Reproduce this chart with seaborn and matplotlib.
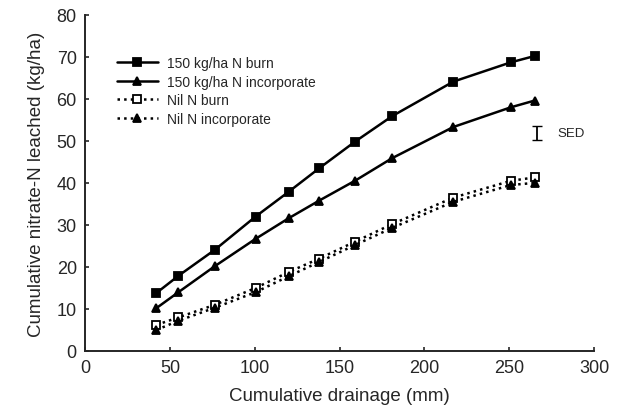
import pandas as pd
import seaborn as sns
import matplotlib.pyplot as plt

sns.set_style('ticks')
plt.rcParams['font.family'] = ['Liberation Sans', 'DejaVu Sans']

drainage = [42, 55, 76.5, 100.5, 120, 138, 159, 181, 217, 251, 265]
burn150 = [13.8, 17.9, 24.1, 32, 37.9, 43.5, 49.8, 55.9, 64.1, 68.7, 70.2]
incorp150 = [10.2, 14, 20.2, 26.7, 31.6, 35.8, 40.5, 45.9, 53.3, 58, 59.6]
burnNil = [6.2, 8, 11, 15, 18.8, 22, 26, 30.2, 36.5, 40.5, 41.3]
incorpNil = [5, 7.2, 10.3, 14, 17.8, 21.2, 25.2, 29.3, 35.5, 39.5, 40]
labels = ['150 kg/ha N burn', '150 kg/ha N incorporate', 'Nil N burn', 'Nil N incorporate']

sed_x = 266.5
sed_mid = 51.9
sed_half = 1.75

rows = []
for lab, vals in zip(labels, [burn150, incorp150, burnNil, incorpNil]):
    for d, v in zip(drainage, vals):
        rows.append({'drainage': d, 'nitrate': v, 'Type': lab})
data = pd.DataFrame(rows)

styles = {
    '150 kg/ha N burn': dict(marker='s', linestyle='-', markerfacecolor='black', linewidth=1.8),
    '150 kg/ha N incorporate': dict(marker='^', linestyle='-', markerfacecolor='black', linewidth=1.8),
    'Nil N burn': dict(marker='s', linestyle=':', markerfacecolor='white', linewidth=1.8),
    'Nil N incorporate': dict(marker='^', linestyle=':', markerfacecolor='black', linewidth=1.8),
}

fig = plt.figure(figsize=(6.17, 4.10), dpi=100)
ax = fig.add_axes([0.138, 0.1415, 0.825, 0.82])
for lab in labels:
    sub = data[data['Type'] == lab]
    sns.lineplot(data=sub, x='drainage', y='nitrate', ax=ax, color='black', label=lab,
                 markersize=5.5, markeredgecolor='black', markeredgewidth=1.3, **styles[lab])

ax.errorbar([sed_x], [sed_mid], yerr=[sed_half], color='black', capsize=3.5, linewidth=1.3)
ax.text(sed_x + 12, sed_mid, 'SED', va='center', ha='left', fontsize=9.5)

ax.set_xlim(0, 300)
ax.set_ylim(0, 80)
ax.set_xticks(range(0, 301, 50))
ax.set_yticks(range(0, 81, 10))
ax.tick_params(direction='in', length=3, width=1.2, labelsize=13, pad=6)
for s in ['left', 'bottom']:
    ax.spines[s].set_linewidth(1.4)
ax.set_xlabel('Cumulative drainage (mm)', fontsize=13.5, labelpad=8)
ax.set_ylabel('Cumulative nitrate-N leached (kg/ha)', fontsize=13.5, labelpad=8)
sns.despine(ax=ax)

ax.legend(loc='upper left', bbox_to_anchor=(0.051, 0.893), frameon=False, fontsize=10,
          handlelength=2.95, handletextpad=0.7, labelspacing=0.32, borderaxespad=0,
          borderpad=0.4)

plt.savefig('out.png', dpi=100)
plt.close()
